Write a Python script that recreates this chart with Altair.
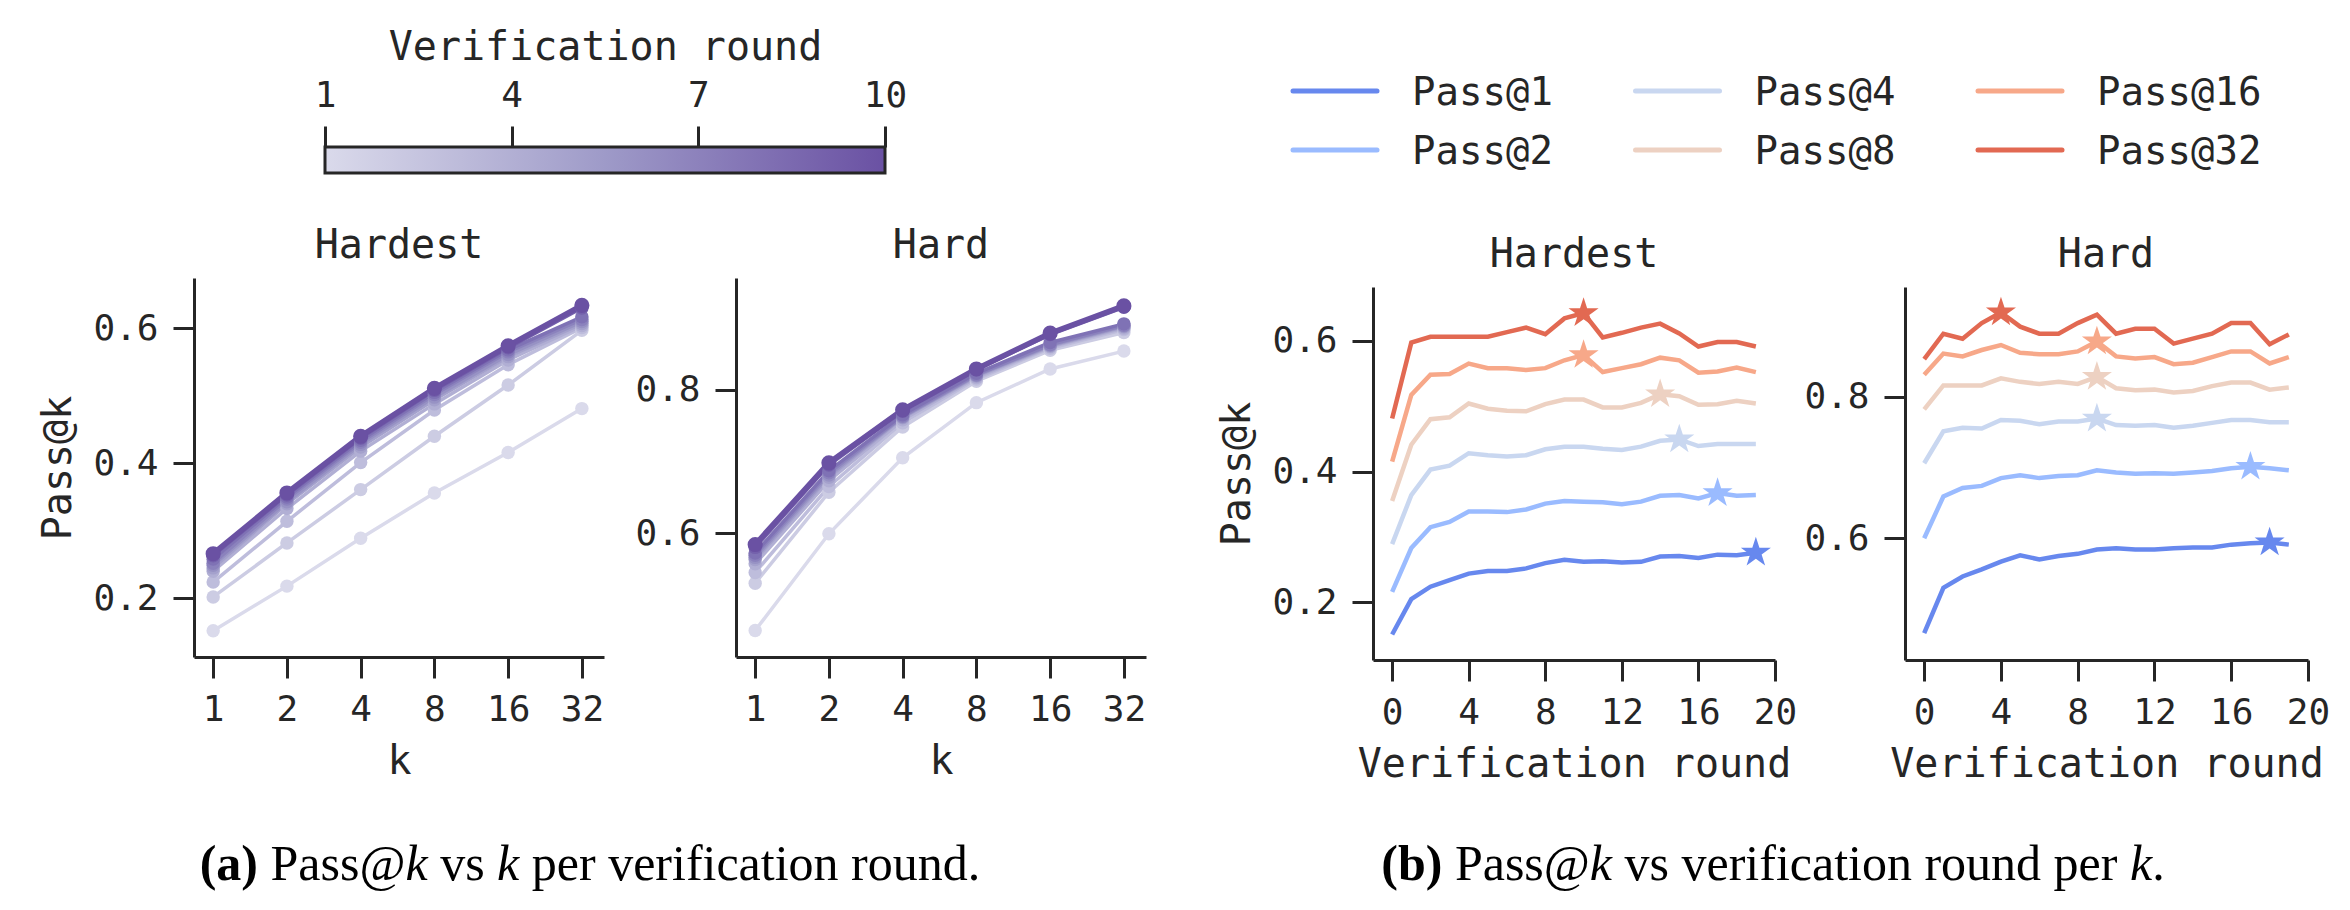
import altair as alt
import pandas as pd

# ---------------------------------------------------------------- data
K_VALUES = [1, 2, 4, 8, 16, 32]
ROUNDS = list(range(1, 11))

# Pass@k for k = 1..32, one row per verification round (1..10)
HARDEST_BY_ROUND = [
    [0.152, 0.218, 0.289, 0.356, 0.416, 0.481],
    [0.202, 0.282, 0.361, 0.440, 0.516, 0.597],
    [0.224, 0.314, 0.401, 0.479, 0.546, 0.601],
    [0.240, 0.333, 0.418, 0.488, 0.553, 0.604],
    [0.245, 0.340, 0.424, 0.494, 0.558, 0.607],
    [0.249, 0.343, 0.428, 0.498, 0.561, 0.610],
    [0.252, 0.347, 0.431, 0.502, 0.565, 0.613],
    [0.258, 0.350, 0.434, 0.505, 0.568, 0.617],
    [0.263, 0.353, 0.437, 0.508, 0.571, 0.630],
    [0.266, 0.356, 0.440, 0.511, 0.574, 0.634],
]
HARD_BY_ROUND = [
    [0.464, 0.599, 0.705, 0.782, 0.829, 0.854],
    [0.530, 0.657, 0.748, 0.812, 0.855, 0.880],
    [0.545, 0.665, 0.754, 0.815, 0.858, 0.884],
    [0.557, 0.673, 0.758, 0.817, 0.860, 0.886],
    [0.563, 0.678, 0.761, 0.819, 0.861, 0.888],
    [0.566, 0.681, 0.762, 0.820, 0.862, 0.889],
    [0.569, 0.684, 0.763, 0.821, 0.863, 0.890],
    [0.572, 0.687, 0.765, 0.823, 0.866, 0.892],
    [0.580, 0.695, 0.770, 0.828, 0.877, 0.915],
    [0.584, 0.698, 0.772, 0.829, 0.879, 0.917],
]

STEPS = list(range(20))
PASS_LABELS = ["Pass@1", "Pass@2", "Pass@4", "Pass@8", "Pass@16", "Pass@32"]

HARDEST_BY_STEP = {
    "Pass@1": [0.151, 0.205, 0.224, 0.234, 0.244, 0.248, 0.248, 0.252, 0.260, 0.265,
               0.262, 0.263, 0.261, 0.262, 0.270, 0.271, 0.268, 0.273, 0.272, 0.276],
    "Pass@2": [0.216, 0.283, 0.315, 0.323, 0.339, 0.339, 0.338, 0.342, 0.351, 0.355,
               0.354, 0.353, 0.350, 0.354, 0.363, 0.364, 0.359, 0.367, 0.363, 0.364],
    "Pass@4": [0.289, 0.364, 0.403, 0.409, 0.428, 0.425, 0.423, 0.425, 0.434, 0.438,
               0.438, 0.435, 0.433, 0.438, 0.447, 0.449, 0.439, 0.442, 0.442, 0.442],
    "Pass@8": [0.355, 0.441, 0.480, 0.483, 0.504, 0.496, 0.493, 0.492, 0.503, 0.510,
               0.510, 0.498, 0.498, 0.505, 0.518, 0.515, 0.502, 0.503, 0.508, 0.504],
    "Pass@16": [0.415, 0.517, 0.548, 0.549, 0.565, 0.558, 0.558, 0.555, 0.558, 0.570,
                0.578, 0.552, 0.558, 0.564, 0.574, 0.570, 0.551, 0.553, 0.559, 0.552],
    "Pass@32": [0.481, 0.597, 0.606, 0.606, 0.606, 0.606, 0.613, 0.620, 0.610, 0.634,
                0.642, 0.605, 0.612, 0.620, 0.626, 0.611, 0.591, 0.598, 0.598, 0.591],
}
HARD_BY_STEP = {
    "Pass@1": [0.466, 0.530, 0.546, 0.556, 0.567, 0.576, 0.570, 0.575, 0.578, 0.584,
               0.586, 0.584, 0.584, 0.586, 0.587, 0.587, 0.591, 0.593, 0.594, 0.591],
    "Pass@2": [0.600, 0.659, 0.671, 0.674, 0.685, 0.689, 0.685, 0.688, 0.689, 0.696,
               0.693, 0.691, 0.692, 0.691, 0.693, 0.695, 0.699, 0.701, 0.699, 0.696],
    "Pass@4": [0.706, 0.751, 0.756, 0.755, 0.767, 0.766, 0.761, 0.765, 0.765, 0.769,
               0.760, 0.759, 0.760, 0.756, 0.759, 0.763, 0.767, 0.767, 0.764, 0.764],
    "Pass@8": [0.782, 0.816, 0.816, 0.816, 0.826, 0.821, 0.818, 0.821, 0.818, 0.828,
               0.812, 0.809, 0.810, 0.806, 0.808, 0.815, 0.820, 0.820, 0.810, 0.813],
    "Pass@16": [0.831, 0.861, 0.857, 0.866, 0.873, 0.862, 0.860, 0.860, 0.864, 0.878,
                0.857, 0.854, 0.856, 0.846, 0.848, 0.856, 0.864, 0.864, 0.847, 0.856],
    "Pass@32": [0.853, 0.889, 0.882, 0.904, 0.919, 0.899, 0.889, 0.889, 0.904, 0.916,
                0.889, 0.896, 0.896, 0.875, 0.882, 0.889, 0.904, 0.904, 0.874, 0.888],
}

# ---------------------------------------------------------------- style
FONT = "DejaVu Sans Mono"
SERIF = "Liberation Serif"
INK = "#262626"
PURPLES = ["#dadaeb", "#9e9ac8", "#6a51a3"]
COOLWARM = ["#6788ee", "#9abbff", "#c9d7f0", "#edd1c2", "#f7a889", "#e26952"]
STAR = ("M0,-1L0.2245,-0.309L0.9511,-0.309L0.3633,0.118L0.5878,0.809L0,0.382"
        "L-0.5878,0.809L-0.3633,0.118L-0.9511,-0.309L-0.2245,-0.309Z")

W, H = 2350, 910

round_color = alt.Scale(domain=[1, 5.5, 10], range=PURPLES)
pass_color = alt.Scale(domain=PASS_LABELS, range=COOLWARM)
LAST_ROUND = f"datum.round == {ROUNDS[-1]}"


def long_by_round(table):
    return pd.DataFrame([
        {"round": r, "k": k, "value": v}
        for r, row in zip(ROUNDS, table) for k, v in zip(K_VALUES, row)
    ])


def long_by_step(curves):
    return pd.DataFrame([
        {"step": s, "label": lab, "value": v}
        for lab in PASS_LABELS for s, v in zip(STEPS, curves[lab])
    ])


def bottom_axis(y_px, values, title):
    return alt.Axis(orient="bottom", offset=y_px - H, values=values, format="d",
                    title=title, labelPadding=14, titlePadding=14)


def left_axis(x_px, values, title):
    return alt.Axis(orient="left", offset=-x_px, values=values, format=".1f",
                    title=title, labelPadding=15, titlePadding=14)


def k_panel(table, x0, x1, top, bottom, y_dom, y_ticks, y_title):
    df = long_by_round(table)
    xs = alt.Scale(type="log", base=2, domain=[2 ** -0.26, 2 ** 5.3],
                   range=[x0, x1], nice=False)
    ys = alt.Scale(domain=y_dom, range=[bottom, top], nice=False, zero=False)
    col = alt.Color("round:Q", scale=round_color, legend=None)
    base = alt.Chart(df)
    line = base.mark_line().encode(
        x=alt.X("k:Q", scale=xs, axis=bottom_axis(bottom, K_VALUES, "k")),
        y=alt.Y("value:Q", scale=ys, axis=left_axis(x0, y_ticks, y_title)),
        color=col,
        detail="round:N",
        strokeWidth=alt.condition(LAST_ROUND, alt.value(5.5), alt.value(3.5)),
    )
    dots = base.mark_circle(opacity=1).encode(
        x=alt.X("k:Q", scale=xs, axis=None),
        y=alt.Y("value:Q", scale=ys, axis=None),
        color=col,
        size=alt.condition(LAST_ROUND, alt.value(230), alt.value(180)),
    )
    return [line, dots]


def step_panel(curves, x0, x1, top, bottom, y_dom, y_ticks, y_title):
    df = long_by_step(curves)
    xs = alt.Scale(domain=[-1, 20], range=[x0, x1], nice=False, zero=False)
    ys = alt.Scale(domain=y_dom, range=[bottom, top], nice=False, zero=False)
    col = alt.Color("label:N", scale=pass_color, legend=None)
    base = alt.Chart(df)
    line = base.mark_line(strokeWidth=4.5).encode(
        x=alt.X("step:Q", scale=xs,
                axis=bottom_axis(bottom, [0, 4, 8, 12, 16, 20], "Verification round")),
        y=alt.Y("value:Q", scale=ys, axis=left_axis(x0, y_ticks, y_title)),
        color=col,
    )
    # star on the best round of every curve
    best = base.transform_joinaggregate(
        best="max(value)", groupby=["label"]
    ).transform_filter("datum.value == datum.best").mark_point(
        shape=STAR, size=1000, filled=True, opacity=1
    ).encode(
        x=alt.X("step:Q", scale=xs, axis=None),
        y=alt.Y("value:Q", scale=ys, axis=None),
        color=col,
    )
    return [line, best]


def label(text, x, y, size=40, font=FONT, align="center", weight="normal", style="normal"):
    return alt.Chart(alt.Data(values=[{}])).mark_text(
        text=text, font=font, fontSize=size, align=align, baseline="alphabetic",
        fontWeight=weight, fontStyle=style, color=INK if font == FONT else "#000000",
    ).encode(x=alt.value(x), y=alt.value(y))


# advance widths (1/1000 em) of Liberation Serif, used to lay out the captions
ADVANCE = {
    "normal": {" ": 250, "(": 333, ")": 333, ".": 250, "@": 921, "P": 556, "a": 444,
               "b": 500, "c": 444, "d": 500, "e": 444, "f": 333, "i": 278, "k": 500,
               "n": 500, "o": 500, "p": 500, "r": 333, "s": 389, "t": 278, "u": 500,
               "v": 500},
    "bold": {" ": 250, "(": 333, ")": 333, "a": 500, "b": 556},
    "italic": {" ": 250, "k": 444},
}


def caption(segments, center, baseline, size=50):
    widths = [sum(ADVANCE[kind][ch] for ch in text) * size / 1000 for text, kind in segments]
    x = center - sum(widths) / 2
    layers = []
    for (text, kind), w in zip(segments, widths):
        lead = len(text) - len(text.lstrip(" "))
        layers.append(label(
            text.strip(" "), x + lead * ADVANCE[kind][" "] * size / 1000, baseline,
            size=size, font=SERIF, align="left",
            weight="bold" if kind == "bold" else "normal",
            style="italic" if kind == "italic" else "normal",
        ))
        x += w
    return layers


# ---------------------------------------------------------------- pieces
layers = []

# colour bar for the verification round
layers.append(
    alt.Chart(pd.DataFrame({"lo": [ROUNDS[0]], "hi": [ROUNDS[-1]]})).mark_rect(
        fill=alt.Gradient(
            gradient="linear",
            stops=[alt.GradientStop(color=c, offset=o) for c, o in zip(PURPLES, [0, 0.5, 1])],
            x1=0, x2=1, y1=0, y2=0,
        ),
        stroke=INK, strokeWidth=3,
    ).encode(
        x=alt.X("lo:Q", scale=alt.Scale(domain=[1, 10], range=[325, 885], nice=False, zero=False),
                axis=alt.Axis(orient="top", offset=-147, values=[1, 4, 7, 10], format="d",
                              title="Verification round", domain=False,
                              labelPadding=12, titlePadding=10)),
        x2="hi:Q",
        y=alt.value(147),
        y2=alt.value(173),
    )
)

# legend of the Pass@k curves, three columns of two entries
legend_base = alt.Chart(pd.DataFrame({"label": PASS_LABELS})).transform_window(
    idx="row_number()"
).transform_calculate(
    col="floor((datum.idx - 1) / 2)", row="(datum.idx - 1) % 2"
)
layers.append(
    legend_base.mark_rule(strokeWidth=5, strokeCap="round", x2Offset=84).encode(
        x=alt.X("col:Q", scale=alt.Scale(domain=[0, 2], range=[1293, 1978], zero=False, nice=False), axis=None),
        x2="col:Q",
        y=alt.Y("row:Q", scale=alt.Scale(domain=[0, 1], range=[91, 150], zero=False, nice=False), axis=None),
        color=alt.Color("label:N", scale=pass_color, legend=None),
    )
)
layers.append(
    legend_base.mark_text(font=FONT, fontSize=39, align="left", baseline="alphabetic", color=INK).encode(
        x=alt.X("col:Q", scale=alt.Scale(domain=[0, 2], range=[1412, 2097], zero=False, nice=False), axis=None),
        y=alt.Y("row:Q", scale=alt.Scale(domain=[0, 1], range=[105, 164], zero=False, nice=False), axis=None),
        text="label:N",
    )
)

# (a) Pass@k against k
layers += k_panel(HARDEST_BY_ROUND, 194, 604, 278, 657, [0.113, 0.6745], [0.2, 0.4, 0.6], "Pass@k")
layers += k_panel(HARD_BY_ROUND, 736, 1146, 278, 657, [0.427, 0.956], [0.6, 0.8], None)
# (b) Pass@k against verification round
layers += step_panel(HARDEST_BY_STEP, 1373, 1775, 287, 660, [0.112, 0.682], [0.2, 0.4, 0.6], "Pass@k")
layers += step_panel(HARD_BY_STEP, 1905, 2308, 287, 660, [0.428, 0.955], [0.6, 0.8], None)

# panel titles
layers += [
    label("Hardest", 399, 258),
    label("Hard", 941, 258),
    label("Hardest", 1574, 267),
    label("Hard", 2106, 267),
]

# sub-figure captions
layers += caption([("(a)", "bold"), (" Pass@", "normal"), ("k", "italic"), (" vs ", "normal"),
                   ("k", "italic"), (" per verification round.", "normal")], 590, 880)
layers += caption([("(b)", "bold"), (" Pass@", "normal"), ("k", "italic"),
                   (" vs verification round per ", "normal"), ("k", "italic"), (".", "normal")],
                  1773, 880)

chart = alt.layer(*layers).resolve_scale(
    x="independent", y="independent", color="independent"
).properties(
    width=W, height=H, padding=0, background="white",
    autosize=alt.AutoSizeParams(type="none"),
).configure_view(stroke=None).configure_axis(
    grid=False,
    domainColor=INK, domainWidth=3,
    tickColor=INK, tickWidth=3, tickSize=21,
    labelFont=FONT, labelFontSize=36, labelColor=INK,
    labelOverlap=False, labelFlush=False,
    titleFont=FONT, titleFontSize=40, titleFontWeight="normal", titleColor=INK,
)

chart.save("out.html", embed_options={"renderer": "svg", "actions": False})
